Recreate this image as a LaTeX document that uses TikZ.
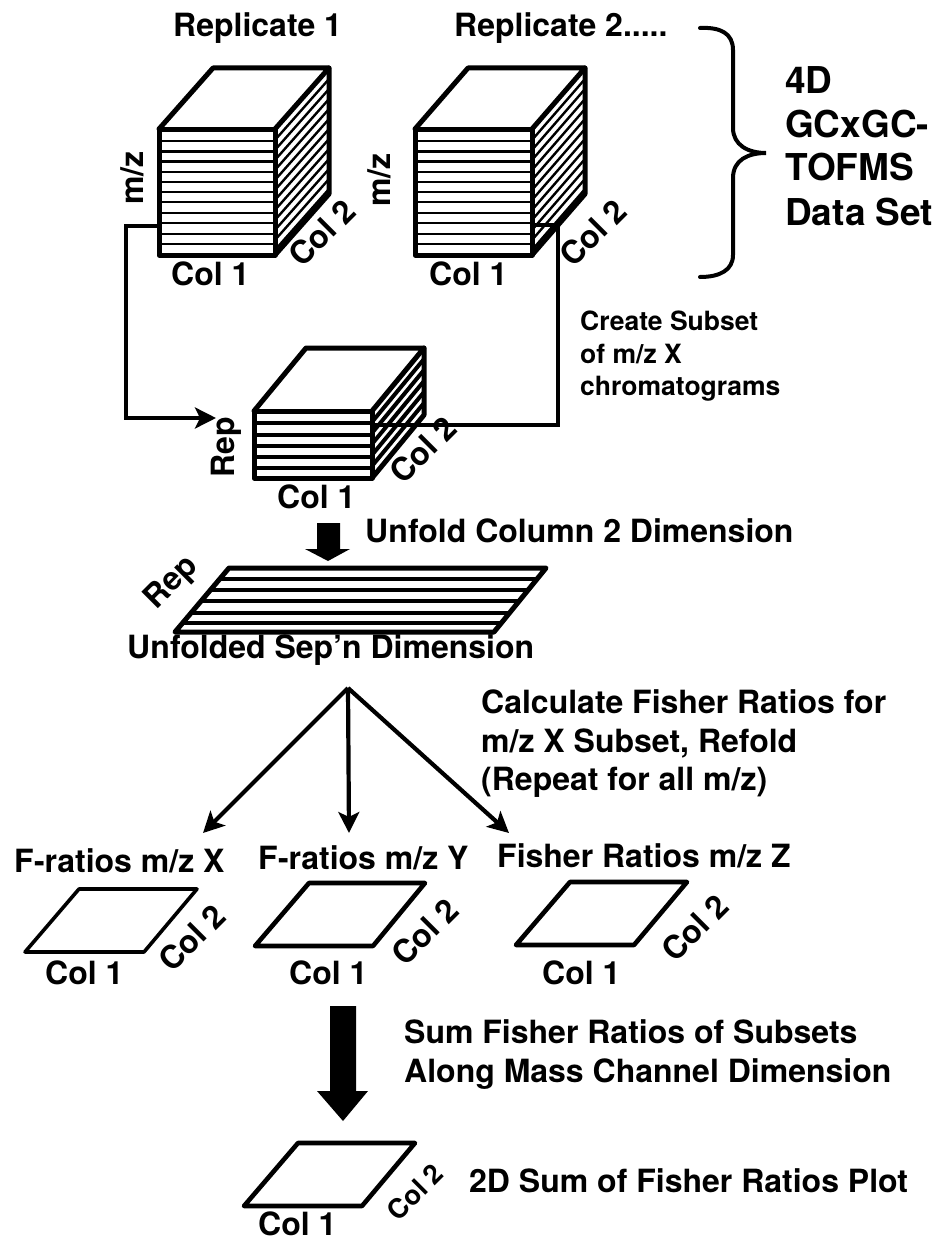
\documentclass[tikz,border=0pt]{standalone}
\usepackage{fontspec}
\setmainfont{TeX Gyre Heros}
\usetikzlibrary{arrows.meta}
\tikzset{
  x=1pt,y=-1pt,
  lbl/.style={inner sep=0pt,anchor=base west,font=\fontsize{32}{38}\selectfont\bfseries},
  lblsm/.style={lbl,font=\fontsize{26.5}{32}\selectfont\bfseries},
  lblbig/.style={lbl,font=\fontsize{37}{44}\selectfont\bfseries},
  rot/.style={inner sep=0pt,anchor=center,rotate=#1,font=\fontsize{32}{38}\selectfont\bfseries},
  outline/.style={line width=5pt,line join=round,line cap=round},
  planeout/.style={line width=4.6pt,line join=round,line cap=round},
  strip/.style={line width=2.4pt},
  stripheavy/.style={line width=4pt},
  conn/.style={line width=4.2pt,line join=miter},
  connarrow/.style={line width=4.2pt,-{Stealth[length=21pt,width=21pt,inset=5pt]}},
  bigarrow/.style={fill=black,draw=none},
}
% #1 left, #2 top, #3 width, #4 height, #5 depth x, #6 depth y, #7 strip style, #8 strip offsets, #9 hatch offsets
\newcommand{\blockdraw}[9]{%
  \begin{scope}[shift={(#1,#2)}]
    \begin{scope}
      \clip (#3,0) -- ++(#5,-#6) -- ++(0,#4) -- ++(-#5,#6) -- cycle;
      \foreach \hy in {#9} \draw[#7] (#3,\hy) -- ++(#5,-#6);
    \end{scope}
    \foreach \sy in {#8} \draw[#7] (0,\sy) -- (#3,\sy);
    \draw[outline] (0,0) rectangle (#3,#4);
    \draw[outline] (0,0) -- (#5,-#6) -- (#3+#5,-#6) -- (#3,0);
    \draw[outline] (#3+#5,-#6) -- (#3+#5,#4-#6) -- (#3,#4);
  \end{scope}%
}
\begin{document}
\begin{tikzpicture}
\path[use as bounding box,fill=white] (0,0) rectangle (936,1247);

% blocks
\blockdraw{159}{129}{116}{126}{54}{61}{strip}{12,22.5,32.5,43,53,63,73,84,94,105,115}{11,21,31,41,51,61,71,81,91,101,111,121}
\blockdraw{415}{129}{117}{126}{53}{61}{strip}{12,22.5,32.5,43,53,63,73,84,94,105,115}{11,21,31,41,51,61,71,81,91,101,111,121}
\blockdraw{254}{411}{118}{67}{52}{63}{stripheavy}{12,24,35,46,57}{11,22,33,44,55}

% named connector ends
\coordinate (r1out) at (126,226);
\coordinate (r1edge) at (159,226);
\coordinate (elbowa) at (126,418);
\coordinate (stackin) at (216,418);
\coordinate (r2edge) at (532,225);
\coordinate (elbowb) at (558,225);
\coordinate (elbowc) at (558,425);
\coordinate (stackedge) at (372,425);
\coordinate (apex) at (348,688);
\coordinate (tox) at (203,833);
\coordinate (toy) at (349,833);
\coordinate (toz) at (509,833);

\draw[connarrow,line join=miter] (r1edge) -- (r1out) -- (elbowa) -- (stackin);
\draw[conn,line cap=round] (r2edge) -- (elbowb) -- (elbowc) -- (stackedge);

% unfolded plane
\begin{scope}
  \clip (229,568) -- (546,568) -- (494,632) -- (175,632) -- cycle;
  \foreach \ly in {579,590,601,613,623} \draw[stripheavy] (150,\ly) -- (560,\ly);
\end{scope}
\draw[outline] (229,568) -- (546,568) -- (494,632) -- (175,632) -- cycle;

% block arrows
\fill[bigarrow] (317,523) -- (340,523) -- (340,549) -- (350,549) -- (328,561) -- (305,549) -- (317,549) -- cycle;
\fill[bigarrow] (330,1006) -- (356,1006) -- (356,1091) -- (368,1091) -- (343,1121) -- (317,1091) -- (330,1091) -- cycle;

% fan arrows
\draw[connarrow] (apex) -- (tox);
\draw[connarrow] (apex) -- (toy);
\draw[connarrow] (apex) -- (toz);

% planes
\draw[planeout,line width=3.6pt] (79,889) -- (197,889) -- (144,952) -- (25,952) -- cycle;
\draw[planeout] (309,883) -- (425,883) -- (373,946) -- (255,946) -- cycle;
\draw[planeout] (570,882) -- (687,882) -- (634,945) -- (516,945) -- cycle;
\draw[planeout] (298,1143) -- (415,1143) -- (362,1206) -- (244,1206) -- cycle;

% brace
\draw[line width=4pt,line cap=round] (700,28) .. controls (720,27) and (733,33) .. (733,50)
  -- (733,128) .. controls (733,145) and (748,153) .. (766,153)
  .. controls (748,153) and (733,160) .. (733,178)
  -- (733,255) .. controls (733,270) and (720,277) .. (700,277);

% text
\node[lbl] (t1) at (173,37) {Replicate 1};
\node[lbl] (t2) at (454,37) {Replicate 2.....};
\node[lblbig] (d1) at (785,93) {4D};
\node[lblbig] (d2) at (785,137) {GCxGC-};
\node[lblbig] (d3) at (785,180) {TOFMS};
\node[lblbig] (d4) at (785,225) {Data Set};
\node[rot=90] (mz1) at (132,178) {m/z};
\node[rot=90] (mz2) at (379,180) {m/z};
\node[lbl] (c1a) at (171,285) {Col 1};
\node[lbl] (c1b) at (429,285) {Col 1};
\node[rot=45] (c2a) at (322,233) {Col 2};
\node[rot=45] (c2b) at (593,233) {Col 2};
\node[lblsm] (s1) at (580,330) {Create Subset};
\node[lblsm] (s2) at (580,363) {of m/z X};
\node[lblsm] (s3) at (580,395) {chromatograms};
\node[rot=90] (rep1) at (226,447) {Rep};
\node[rot=45] (c2c) at (423,450) {Col 2};
\node[lbl] (c1c) at (277,508) {Col 1};
\node[lbl] (u1) at (365,542) {Unfold Column 2 Dimension};
\node[rot=45] (rep2) at (172,583) {Rep};
\node[lbl] (u2) at (127,658) {Unfolded Sep'n Dimension};
\node[lbl] (f1) at (481,713) {Calculate Fisher Ratios for};
\node[lbl] (f2) at (481,752) {m/z X Subset, Refold};
\node[lbl] (f3) at (481,790) {(Repeat for all m/z)};
\node[lbl] (r1) at (14,872) {F-ratios m/z X};
\node[lbl] (r2) at (258,869) {F-ratios m/z Y};
\node[lbl] (r3) at (497,867) {Fisher Ratios m/z Z};
\node[lbl] (p1) at (45,984) {Col 1};
\node[lbl] (p2) at (289,984) {Col 1};
\node[lbl] (p3) at (542,984) {Col 1};
\node[rot=45] (q1) at (192,938) {Col 2};
\node[rot=45] (q2) at (425,932) {Col 2};
\node[rot=45] (q3) at (695,928) {Col 2};
\node[lbl] (a1) at (404,1043) {Sum Fisher Ratios of Subsets};
\node[lbl] (a2) at (404,1082) {Along Mass Channel Dimension};
\node[lbl] (a3) at (469,1192) {2D Sum of Fisher Ratios Plot};
\node[inner sep=0pt,rotate=45,font=\fontsize{27}{32}\selectfont\bfseries] (q4) at (415,1192) {Col 2};
\node[lbl] (p4) at (258,1235) {Col 1};
\end{tikzpicture}
\end{document}
